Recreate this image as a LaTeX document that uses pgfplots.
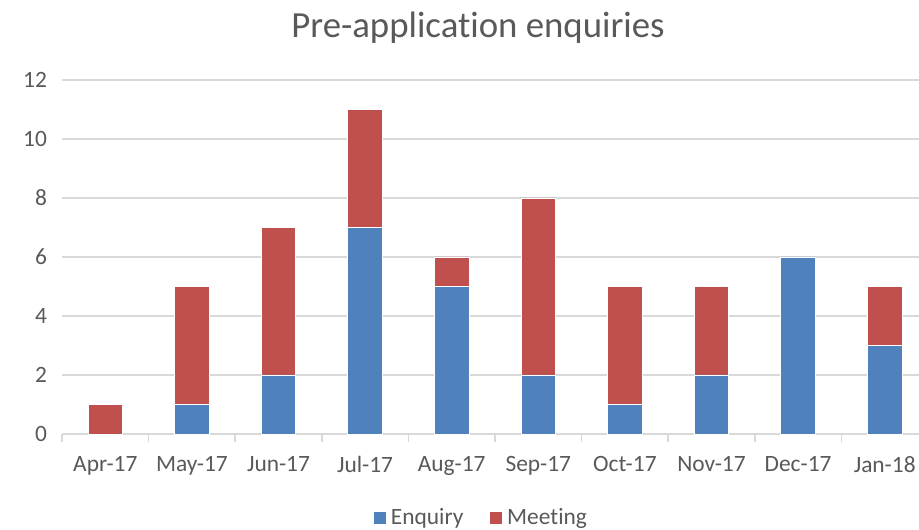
\documentclass[border=0pt]{standalone}
\usepackage{pgfplots}
\pgfplotsset{compat=1.18}
\usepackage{fontspec}
\setmainfont{Carlito}[Ligatures=NoCommon]
\definecolor{enq}{HTML}{4F81BD}
\definecolor{mee}{HTML}{C0504D}
\definecolor{txt}{HTML}{595959}
\definecolor{gridc}{HTML}{D9D9D9}
\begin{document}
\begin{tikzpicture}
\useasboundingbox (-31pt,-47.5pt) rectangle (428.5pt,217pt);
\begin{axis}[
  at={(0,0)}, anchor=south west,
  scale only axis,
  width=433pt, height=177pt,
  ybar stacked,
  bar width=17.3pt,
  xmin=-0.5, xmax=9.5,
  ymin=0, ymax=12,
  ytick={0,2,...,12},
  xtick={0,...,9},
  xticklabels={Apr-17,May-17,Jun-17,Jul-17,Aug-17,Sep-17,Oct-17,Nov-17,Dec-17,Jan-18},
  minor xtick={-0.5,0.5,...,9.5},
  major tick length=0pt,
  minor tick length=4pt,
  tick align=outside,
  xtick pos=bottom,
  minor tick style={draw=gridc, line width=0.8pt},
  axis x line*=bottom,
  axis y line*=left,
  x axis line style={draw=gridc, line width=0.8pt, -},
  y axis line style={draw=none},
  ymajorgrids,
  major grid style={draw=gridc, line width=0.6pt},
  /pgf/number format/assume math mode=true,
  tick label style={font=\fontsize{11.7}{14}\selectfont, text=txt},
  xticklabel style={yshift=-7.5pt},
  yticklabel style={xshift=-4pt},
  legend style={at={(210pt,-42pt)}, anchor=center, draw=none, fill=none,
    legend columns=2, font=\fontsize{11.7}{14}\selectfont, text=txt,
    /tikz/every even column/.append style={column sep=11pt}},
  legend cell align=left,
  legend image code/.code={\fill[#1] (0pt,-3.25pt) rectangle (6.5pt,3.25pt);},
]
\addplot[fill=enq, draw=white, line width=0.4pt] coordinates {(0,0) (1,1) (2,2) (3,7) (4,5) (5,2) (6,1) (7,2) (8,6) (9,3)};
\addplot[fill=mee, draw=white, line width=0.4pt] coordinates {(0,1) (1,4) (2,5) (3,4) (4,1) (5,6) (6,4) (7,3) (8,0) (9,2)};
\legend{Enquiry, Meeting}
\end{axis}
\node[text=txt, font=\fontsize{18.4}{22}\selectfont] at (208pt,203pt) {Pre-application enquiries};
\end{tikzpicture}
\end{document}
